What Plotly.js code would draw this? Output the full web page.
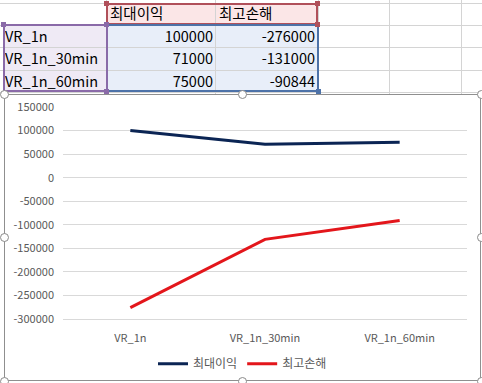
<!DOCTYPE html>
<html>
<head>
<meta charset="utf-8">
<script src="https://cdn.plot.ly/plotly-3.0.1.min.js"></script>
<style>
  html,body{margin:0;padding:0;background:#fff;}
  #page{position:relative;width:482px;height:383px;overflow:hidden;background:#fff;font-family:"Noto Sans CJK KR","Noto Sans",sans-serif;}
  .gl{position:absolute;background:#d4d4d4;}
  .cell{position:absolute;font-size:14.5px;color:#000;line-height:22px;white-space:nowrap;}
  .box{position:absolute;box-sizing:border-box;}
  .sq{position:absolute;width:5px;height:5px;}
  #chartArea{position:absolute;left:4px;top:94px;width:477px;height:287px;background:#fff;box-sizing:border-box;border:1px solid #8f8f8f;}
  #chart{position:absolute;left:-1px;top:-1px;width:477px;height:287px;}
  .handle{position:absolute;width:9px;height:9px;border-radius:50%;border:1.5px solid #8a8a8a;background:#fff;box-sizing:border-box;}
</style>
</head>
<body>
<div id="page">
  <div id="sheet"></div>
  <div id="chartArea"><div id="chart"></div></div>
  <div id="handles"></div>
</div>
<script>
// ---- data ----
var categories = ["VR_1n", "VR_1n_30min", "VR_1n_60min"];
var seriesNames = ["최대이익", "최고손해"];
var maxProfit = [100000, 71000, 75000];
var maxLoss = [-276000, -131000, -90844];
var yTicks = [150000, 100000, 50000, 0, -50000, -100000, -150000, -200000, -250000, -300000];

// ---- spreadsheet backdrop ----
var sheet = document.getElementById('sheet');
function add(html){ sheet.insertAdjacentHTML('beforeend', html); }
// fills
add('<div class="box" style="left:106px;top:3px;width:212px;height:22px;background:#fbe6e7"></div>');
add('<div class="box" style="left:4px;top:25px;width:102px;height:67px;background:#efeaf5"></div>');
add('<div class="box" style="left:106px;top:25px;width:212px;height:67px;background:#e8eef9"></div>');
// gridlines
[3,25,47,70,92].forEach(function(y){ add('<div class="gl" style="left:0;top:'+y+'px;width:482px;height:1px"></div>'); });
[106,215,318,389,461].forEach(function(x){ add('<div class="gl" style="left:'+x+'px;top:0;width:1px;height:94px"></div>'); });
// text
var rowTops = [25,47,70];
add('<div class="cell" style="left:110px;top:2px">'+seriesNames[0]+'</div>');
add('<div class="cell" style="left:219px;top:2px">'+seriesNames[1]+'</div>');
for (var i=0;i<categories.length;i++){
  add('<div class="cell" style="left:5px;top:'+rowTops[i]+'px">'+categories[i]+'</div>');
  add('<div class="cell" style="right:'+(482-213)+'px;top:'+rowTops[i]+'px;text-align:right">'+maxProfit[i]+'</div>');
  add('<div class="cell" style="right:'+(482-315)+'px;top:'+rowTops[i]+'px;text-align:right">'+maxLoss[i]+'</div>');
}
// selection boxes
add('<div class="box" style="left:106px;top:3px;width:212px;height:22px;border:2px solid #b0505a"></div>');
add('<div class="box" style="left:106px;top:24px;width:213px;height:68px;border:2px solid #4d72a8"></div>');
add('<div class="box" style="left:3px;top:24px;width:105px;height:68px;border:2px solid #8a6aa8"></div>');
// corner squares
add('<div class="sq" style="left:104px;top:1px;background:#b0505a"></div>');
add('<div class="sq" style="left:315px;top:1px;background:#b0505a"></div>');
add('<div class="sq" style="left:315px;top:22px;background:#b0505a"></div>');
add('<div class="sq" style="left:1px;top:22px;background:#8a6aa8"></div>');
add('<div class="sq" style="left:104px;top:22px;background:#8a6aa8"></div>');
add('<div class="sq" style="left:104px;top:89px;background:#8a6aa8"></div>');
add('<div class="sq" style="left:316px;top:89px;background:#4d72a8"></div>');

// chart handles
var hd = document.getElementById('handles');
[[4,94],[242,94],[481,94],[4,237],[481,237],[4,381],[242,381],[481,381]].forEach(function(p){
  hd.insertAdjacentHTML('beforeend','<div class="handle" style="left:'+(p[0]-4.5)+'px;top:'+(p[1]-4.5)+'px"></div>');
});

// ---- chart ----
var font = {family: '"Noto Sans CJK KR", "Noto Sans", sans-serif', size: 11, color: '#595959'};
var traces = [
  {x: categories, y: maxProfit, name: seriesNames[0], type: 'scatter', mode: 'lines',
   line: {color: '#0b2554', width: 3}},
  {x: categories, y: maxLoss, name: seriesNames[1], type: 'scatter', mode: 'lines',
   line: {color: '#e3161b', width: 3}}
];
var layout = {
  width: 477, height: 287,
  margin: {l: 58.5, r: 13.5, t: 13, b: 62, pad: 0},
  paper_bgcolor: 'rgba(0,0,0,0)',
  plot_bgcolor: '#fff',
  font: font,
  showlegend: true,
  legend: {orientation: 'h', xref: 'container', yref: 'container', x: 0.5, xanchor: 'center',
           y: 0.06, yanchor: 'middle',
           font: {family: font.family, size: 12, color: '#595959'}, itemwidth: 30, tracegroupgap: 0},
  xaxis: {type: 'category', range: [-0.5, 2.5], showgrid: false, zeroline: false, automargin: false,
          showline: true, linecolor: '#d9d9d9', linewidth: 1, ticks: '', fixedrange: true,
          ticklabelstandoff: 9, tickfont: font},
  yaxis: {range: [-300000, 150000], tickvals: yTicks, ticktext: yTicks.map(String), automargin: false,
          showgrid: true, gridcolor: '#d9d9d9', gridwidth: 1, zeroline: false, showline: false,
          ticks: '', ticklabelstandoff: 8, tickfont: font, fixedrange: true}
};
Plotly.newPlot('chart', traces, layout, {displayModeBar: false, staticPlot: true});
</script>
</body>
</html>
